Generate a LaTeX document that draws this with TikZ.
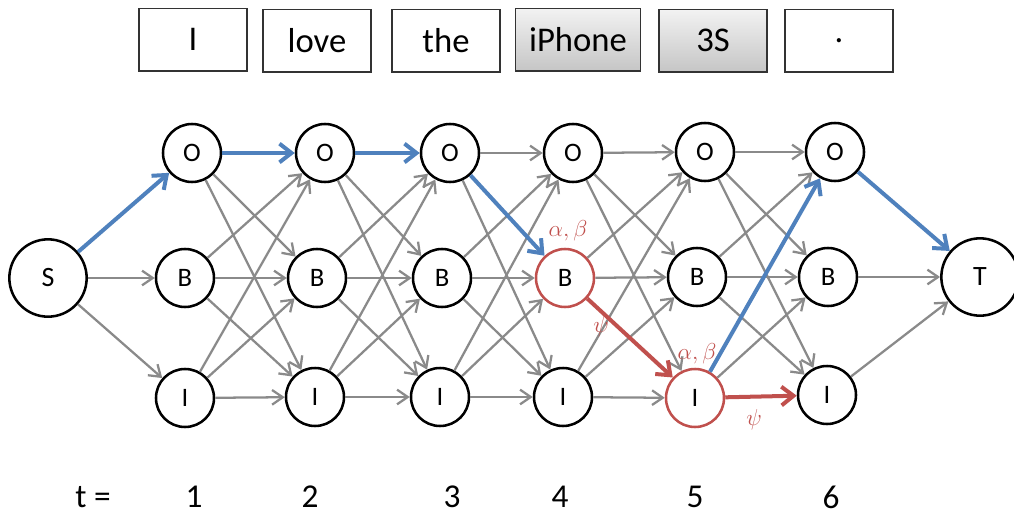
\documentclass[tikz,border=0pt]{standalone}
\usepackage{fontspec}
\setmainfont{Carlito}
\usetikzlibrary{arrows.meta}
\definecolor{cblue}{RGB}{79,129,189}
\definecolor{cred}{RGB}{192,80,77}
\definecolor{cgrey}{RGB}{138,138,138}
\begin{document}
\begin{tikzpicture}[x=0.75pt,y=-0.75pt,
  st/.style={circle, draw=black, line width=1.9pt, minimum size=43.5pt, inner sep=0pt, fill=white, font=\fontsize{20}{20}\selectfont},
  big/.style={st, minimum size=58pt, font=\fontsize{21}{21}\selectfont},
  hl/.style={draw=cred},
  word/.style={draw=black!80, line width=1pt, minimum width=81pt, minimum height=47pt, inner sep=0pt, font=\fontsize{26}{26}\selectfont},
  grayword/.style={word, top color=gray!10, bottom color=gray!45},
  ge/.style={draw=cgrey, line width=1.7pt, -{Straight Barb[length=8pt,width=11pt]}},
  be/.style={draw=cblue, line width=3pt, -{Straight Barb[length=9pt,width=14pt]}},
  re/.style={draw=cred, line width=3pt, -{Straight Barb[length=9pt,width=14pt]}},
  glab/.style={text=cred, font=\fontsize{17}{17}\selectfont},
  tlab/.style={font=\fontsize{25}{25}\selectfont}
]
\useasboundingbox (0,0) rectangle (1014,518);

% word boxes
\node[word] (w1) at (193,39.5) {I};
\node[word] (w2) at (317,40.5) {love};
\node[word] (w3) at (446,40.5) {the};
\node[grayword, minimum width=93.5pt] (w4) at (578,39.5) {iPhone};
\node[grayword] (w5) at (713,40.5) {3S};
\node[word] (w6) at (839,40.5) {.};

% nodes
\node[big] (S) at (48,278) {S};
\node[big] (T) at (980,277) {T};
\node[st] (O1) at (192,153) {O};
\node[st] (B1) at (185,278) {B};
\node[st] (I1) at (185,398) {I};
\node[st] (O2) at (325,153) {O};
\node[st] (B2) at (317,278) {B};
\node[st] (I2) at (315,397) {I};
\node[st] (O3) at (450,153) {O};
\node[st] (B3) at (442,278) {B};
\node[st] (I3) at (440,397) {I};
\node[st] (O4) at (573,153) {O};
\node[st,hl] (B4) at (565,278) {B};
\node[st] (I4) at (563,397) {I};
\node[st] (O5) at (705,152) {O};
\node[st] (B5) at (697,277) {B};
\node[st,hl] (I5) at (695,398) {I};
\node[st] (O6) at (835,152) {O};
\node[st] (B6) at (828,277) {B};
\node[st] (I6) at (827,395) {I};

% grey edges
\draw[ge] (S) -- (B1);
\draw[ge] (S) -- (I1);
\def\hA{O1-O2}\def\hB{O2-O3}\def\hC{O3-B4}\def\hD{B4-I5}\def\hE{I5-O6}\def\hF{I5-I6}
\foreach \a/\b in {1/2,2/3,3/4,4/5,5/6}{
  \foreach \p in {O,B,I}{
    \foreach \q in {O,B,I}{
      \edef\pair{\p\a-\q\b}
      \ifx\pair\hA\else\ifx\pair\hB\else\ifx\pair\hC\else\ifx\pair\hD\else\ifx\pair\hE\else\ifx\pair\hF\else
        \draw[ge] (\p\a) -- (\q\b);
      \fi\fi\fi\fi\fi\fi
    }
  }
}
\draw[ge] (B6) -- (T);
\draw[ge] (I6) -- (T);

% highlighted path
\draw[be] (S) -- (O1);
\draw[be] (O1) -- (O2);
\draw[be] (O2) -- (O3);
\draw[be] (O3) -- (B4);
\draw[re] (B4) -- (I5);
\draw[be] (I5) -- (O6);
\draw[re] (I5) -- (I6);
\draw[be] (O6) -- (T);

% greek labels
\node[glab] (ab1) at (568,231) {$\alpha,\beta$};
\node[glab] (ab2) at (697,354) {$\alpha,\beta$};
\node[glab] (psi1) at (601,327) {$\psi$};
\node[glab] (psi2) at (754,420) {$\psi$};

% time labels
\node[tlab] (t0) at (93,497) {t =};
\node[tlab] (t1) at (194,497) {1};
\node[tlab] (t2) at (310,497) {2};
\node[tlab] (t3) at (452,497) {3};
\node[tlab] (t4) at (560,497) {4};
\node[tlab] (t5) at (695,497) {5};
\node[tlab] (t6) at (831,497) {6};
\end{tikzpicture}
\end{document}
